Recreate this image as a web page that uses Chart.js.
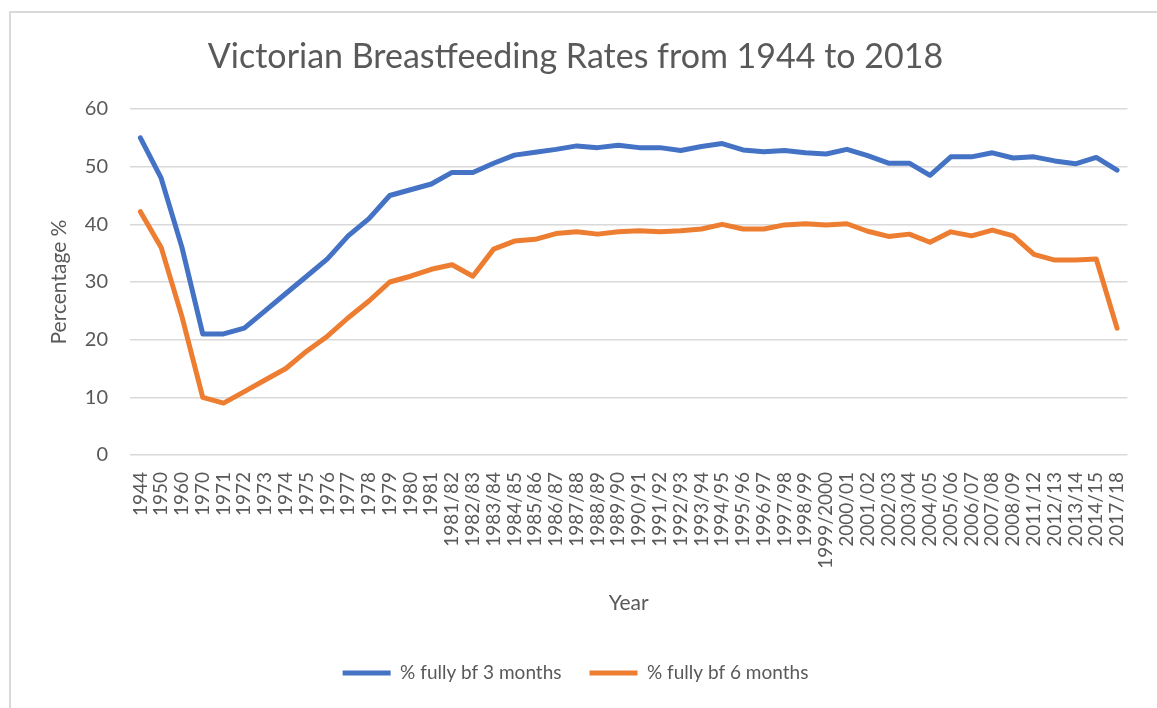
<!DOCTYPE html>
<html>
<head>
<meta charset="utf-8">
<script src="https://cdn.jsdelivr.net/npm/chart.js@4.4.1/dist/chart.umd.min.js"></script>
<style>
  html, body { margin: 0; padding: 0; background: #ffffff; }
  #wrap { width: 1157px; height: 708px; position: relative; }
</style>
</head>
<body>
<div id="wrap"><canvas id="c" width="1157" height="708"></canvas></div>
<script>
const categories = ["1944","1950","1960","1970","1971","1972","1973","1974","1975","1976","1977","1978","1979","1980","1981","1981/82","1982/83","1983/84","1984/85","1985/86","1986/87","1987/88","1988/89","1989/90","1990/91","1991/92","1992/93","1993/94","1994/95","1995/96","1996/97","1997/98","1998/99","1999/2000","2000/01","2001/02","2002/03","2003/04","2004/05","2005/06","2006/07","2007/08","2008/09","2011/12","2012/13","2013/14","2014/15","2017/18"];

const fully3Months = [55,48,36,21,21,22,25,28,31,34,38,41,45,46,47,49,49,50.6,52,52.5,53,53.6,53.3,53.7,53.3,53.3,52.8,53.5,54,52.9,52.6,52.8,52.4,52.2,53,51.9,50.6,50.6,48.5,51.7,51.7,52.4,51.5,51.7,51,50.5,51.6,49.4];

const fully6Months = [42.2,36,24,10,9,11,13,15,18,20.6,23.8,26.7,30,31,32.2,33,31,35.7,37.1,37.4,38.4,38.7,38.3,38.7,38.9,38.7,38.9,39.2,40,39.2,39.2,39.9,40.1,39.9,40.1,38.8,37.9,38.3,36.9,38.7,38,39,38,34.8,33.8,33.8,34,22];

const yTicks = [0,10,20,30,40,50,60];

const seriesNames = ["% fully bf 3 months","% fully bf 6 months"];
const seriesColors = ["#4472C4","#ED7D31"];

const textColor = "#595959";
const fontFamily = "Lato, 'Open Sans', sans-serif";

const framePlugin = {
  id: 'frame',
  beforeDraw(chart) {
    const ctx = chart.ctx;
    ctx.save();
    ctx.fillStyle = '#ffffff';
    ctx.fillRect(0, 0, chart.width, chart.height);
    ctx.strokeStyle = '#d9d9d9';
    ctx.lineWidth = 2;
    ctx.beginPath();
    ctx.moveTo(10, chart.height);
    ctx.lineTo(10, 12);
    ctx.lineTo(chart.width, 12);
    ctx.stroke();
    ctx.restore();
  }
};

new Chart(document.getElementById('c'), {
  type: 'line',
  data: {
    labels: categories,
    datasets: [
      { label: seriesNames[0], data: fully3Months, borderColor: seriesColors[0], backgroundColor: seriesColors[0], borderWidth: 5, pointRadius: 0, tension: 0, borderJoinStyle: 'round', borderCapStyle: 'round' },
      { label: seriesNames[1], data: fully6Months, borderColor: seriesColors[1], backgroundColor: seriesColors[1], borderWidth: 5, pointRadius: 0, tension: 0, borderJoinStyle: 'round', borderCapStyle: 'round' }
    ]
  },
  options: {
    responsive: false,
    animation: false,
    devicePixelRatio: 1,
    layout: { padding: { left: 10, right: 16, top: 0, bottom: 15.5 } },
    plugins: {
      title: {
        display: true,
        text: 'Victorian Breastfeeding Rates from 1944 to 2018',
        color: textColor,
        font: { family: fontFamily, size: 34, weight: 'normal', lineHeight: 1.2 },
        padding: { top: 37, bottom: 31.2 }
      },
      legend: {
        display: true,
        position: 'bottom',
        labels: {
          color: textColor,
          font: { family: fontFamily, size: 19 },
          boxWidth: 48,
          boxHeight: 5,
          padding: 28,
          generateLabels(chart) {
            const items = Chart.defaults.plugins.legend.labels.generateLabels(chart);
            items.forEach(it => { it.lineWidth = 0; });
            return items;
          }
        }
      },
      tooltip: { enabled: false }
    },
    scales: {
      x: {
        offset: true,
        grid: { display: false, drawTicks: false, offset: true },
        border: { display: false },
        ticks: {
          color: textColor,
          font: { family: fontFamily, size: 19 },
          autoSkip: false,
          minRotation: 90,
          maxRotation: 90,
          padding: 17
        },
        title: {
          display: true,
          text: 'Year',
          color: textColor,
          font: { family: fontFamily, size: 21, lineHeight: 1.2 },
          padding: { top: 0, bottom: 20 }
        },
        afterFit(scale) { scale.height = 180.5; }
      },
      y: {
        min: 0,
        max: 60,
        afterBuildTicks(scale) { scale.ticks = yTicks.map(v => ({ value: v })); },
        grid: { color: '#d9d9d9', lineWidth: 1.5, drawTicks: false },
        border: { display: false },
        ticks: {
          color: textColor,
          font: { family: fontFamily, size: 20 },
          padding: 22
        },
        title: {
          display: true,
          text: 'Percentage %',
          color: textColor,
          font: { family: fontFamily, size: 21, lineHeight: 1.2 },
          padding: { top: 36.6, bottom: 0 }
        },
        afterFit(scale) { scale.width = 120; }
      }
    }
  },
  plugins: [framePlugin]
});
</script>
</body>
</html>
